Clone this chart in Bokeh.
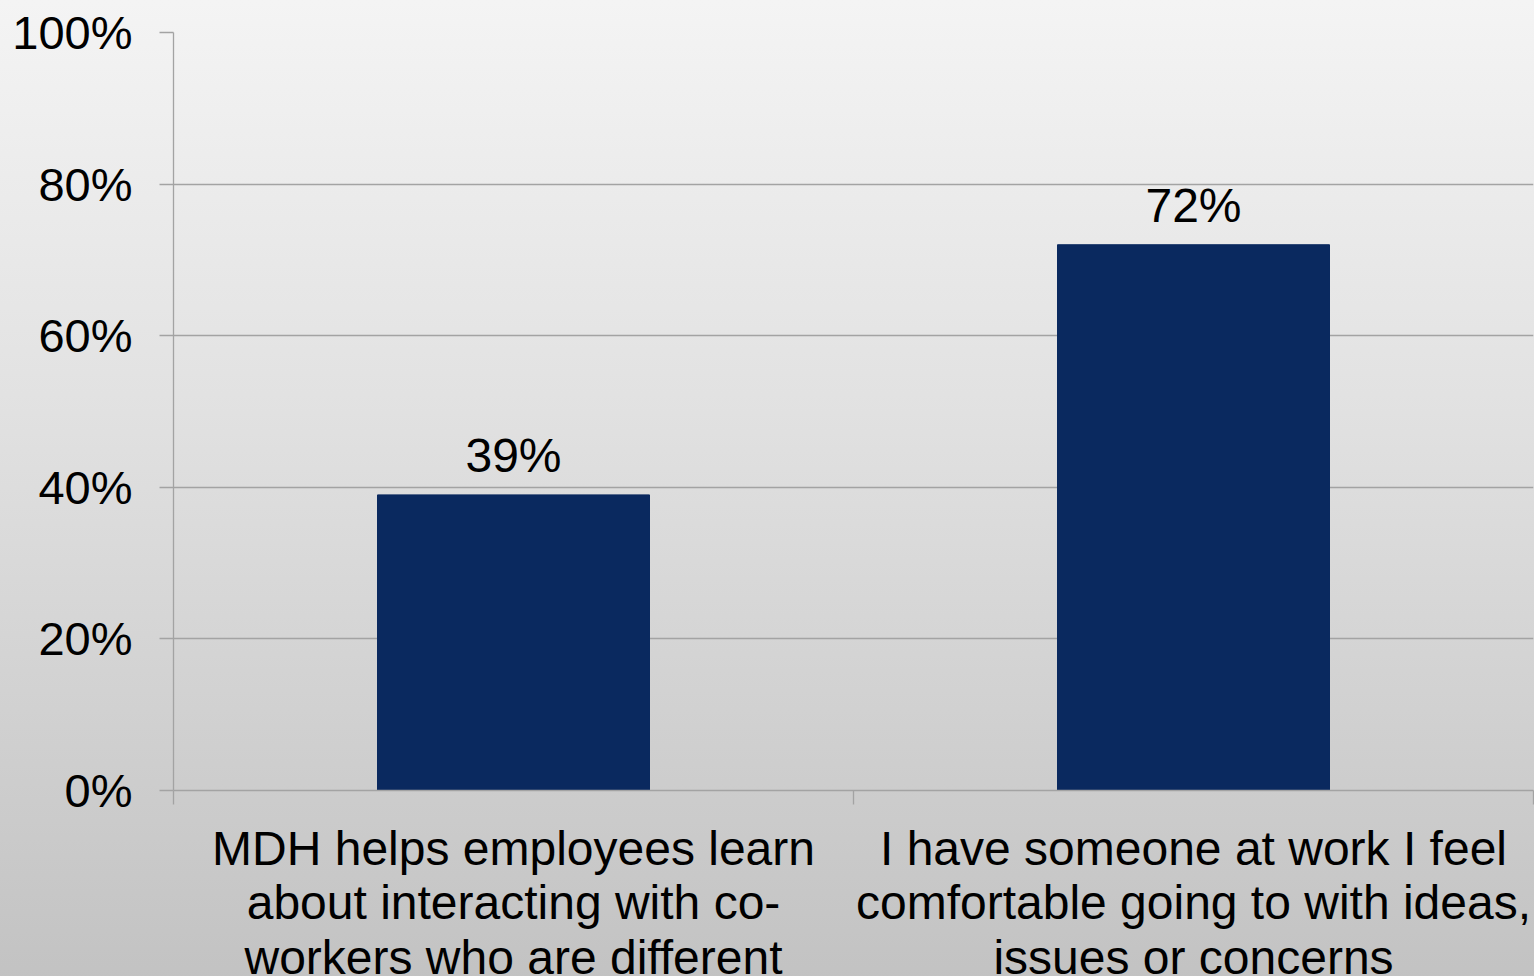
from bokeh.plotting import figure
from bokeh.models import FixedTicker, ColumnDataSource
from bokeh.core.properties import value
from bokeh.embed import file_html
from bokeh.resources import INLINE

categories = [
    "MDH helps employees learn\nabout interacting with co-\nworkers who are different",
    "I have someone at work I feel\ncomfortable going to with ideas,\nissues or concerns",
]
values = [39, 72]
value_labels = ["39%", "72%"]
y_ticks = [0, 20, 40, 60, 80, 100]
y_tick_labels = ["0%", "20%", "40%", "60%", "80%", "100%"]

FONT = "Liberation Sans"
GRID = "#a3a3a3"

xs = [i + 0.5 for i in range(len(categories))]
src = ColumnDataSource(dict(x=xs, top=values, label=value_labels))

p = figure(
    frame_width=1360, frame_height=758,
    x_range=(0, len(categories)), y_range=(0, 100),
    output_backend="svg", toolbar_location=None,
    min_border_left=173, min_border_right=1, min_border_top=32, min_border_bottom=186,
)
p.styles = {"background": "linear-gradient(to bottom, #f4f4f4 0%, #e2e2e2 40%, #c2c2c2 100%)"}
p.background_fill_alpha = 0
p.border_fill_alpha = 0
p.outline_line_color = None

p.vbar(x="x", top="top", width=0.4, bottom=0, source=src, color="#0a295f")
p.text(x="x", y="top", text="label", source=src, text_align="center", text_baseline="bottom",
       y_offset=-13, text_font=value(FONT), text_font_size="48px", text_color="#000000")

# y axis
p.yaxis.ticker = FixedTicker(ticks=y_ticks)
p.yaxis.major_label_overrides = {t: l for t, l in zip(y_ticks, y_tick_labels)}
p.yaxis.major_label_text_font = FONT
p.yaxis.major_label_text_font_size = "47px"
p.yaxis.major_label_text_color = "#000000"
p.yaxis.major_label_standoff = 27
p.yaxis.major_tick_out = 14
p.yaxis.major_tick_in = 0
p.yaxis.minor_tick_line_color = None
p.yaxis.axis_line_color = GRID
p.yaxis.major_tick_line_color = GRID
p.yaxis.axis_line_width = 1.3
p.yaxis.major_tick_line_width = 1.3

# x axis
p.xaxis.ticker = FixedTicker(ticks=xs, minor_ticks=list(range(len(categories) + 1)))
p.xaxis.major_label_overrides = {x: c for x, c in zip(xs, categories)}
p.xaxis.major_label_text_font = FONT
p.xaxis.major_label_text_font_size = "48px"
p.xaxis.major_label_text_line_height = 1.03
p.xaxis.major_label_text_color = "#000000"
p.xaxis.major_label_standoff = 17
p.xaxis.major_tick_line_color = None
p.xaxis.minor_tick_out = 14
p.xaxis.minor_tick_in = 0
p.xaxis.minor_tick_line_color = GRID
p.xaxis.minor_tick_line_width = 1.3
p.xaxis.axis_line_color = GRID
p.xaxis.axis_line_width = 1.3

p.xgrid.grid_line_color = None
p.ygrid.grid_line_color = GRID
p.ygrid.grid_line_width = 1.3

open("out.html", "w").write(file_html(p, INLINE))
